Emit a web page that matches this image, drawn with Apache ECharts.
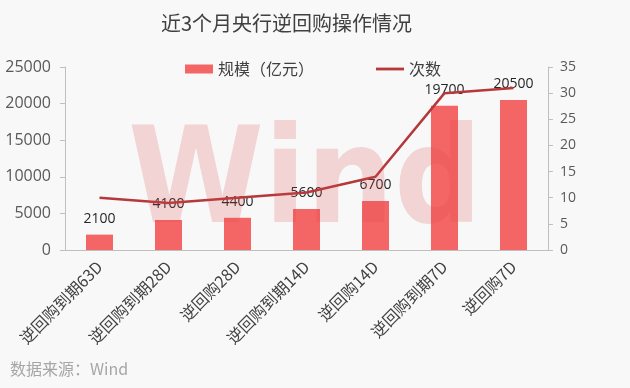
<!DOCTYPE html>
<html>
<head>
<meta charset="utf-8">
<script src="https://cdn.jsdelivr.net/npm/echarts@6/dist/echarts.min.js"></script>
<style>
html,body{margin:0;padding:0;background:#f8f8f8;}
#c{width:630px;height:388px;}
</style>
</head>
<body>
<div id="c"></div>
<script>
var categories = ['逆回购到期63D','逆回购到期28D','逆回购28D','逆回购到期14D','逆回购14D','逆回购到期7D','逆回购7D'];
var scaleValues = [2100, 4100, 4400, 5600, 6700, 19700, 20500];
var countValues = [10, 9, 10, 11, 14, 30, 31];
var leftTicks = [0, 5000, 10000, 15000, 20000, 25000];
var rightTicks = [0, 5, 10, 15, 20, 25, 30, 35];

var chart = echarts.init(document.getElementById('c'));
var font = '"Noto Sans CJK SC", "Open Sans", sans-serif';
chart.setOption({
  backgroundColor: '#f8f8f8',
  animation: false,
  title: {
    text: '近3个月央行逆回购操作情况',
    left: 156,
    top: 8,
    textStyle: {color: '#404040', fontSize: 20, fontWeight: 'normal', fontFamily: font}
  },
  legend: {
    top: 56,
    left: 180,
    itemGap: 62,
    itemWidth: 28,
    itemHeight: 9,
    textStyle: {color: '#404040', fontSize: 16, fontFamily: font},
    data: [
      {name: '规模（亿元）', icon: 'rect'},
      {name: '次数', icon: 'path://M0,0 L30,0 L30,3 L0,3 Z', itemStyle: {color: '#b5393b'}}
    ]
  },
  graphic: [
    {
      type: 'text',
      x: 128,
      y: 120,
      scaleX: 0.92,
      z: 100,
      style: {
        text: 'Wind',
        font: 'bold 134px "DejaVu Sans", sans-serif',
        fill: 'rgba(222,70,70,0.2)'
      }
    },
    {
      type: 'text',
      left: 10,
      top: 361,
      style: {text: '数据来源：Wind', font: '16px "Noto Sans CJK SC", sans-serif', fill: '#a6a6a6'}
    }
  ],
  grid: {left: 65, right: 82, top: 67, bottom: 138},
  xAxis: {
    type: 'category',
    data: categories,
    axisLine: {lineStyle: {color: '#bfbfbf', width: 1}},
    axisTick: {show: false},
    axisLabel: {rotate: 45, color: '#404040', fontSize: 16, margin: 14, fontFamily: font, interval: 0}
  },
  yAxis: [
    {
      type: 'value', min: leftTicks[0], max: leftTicks[leftTicks.length - 1], interval: 5000,
      axisLine: {show: true, lineStyle: {color: '#bfbfbf'}},
      axisTick: {show: true, length: 5, lineStyle: {color: '#bfbfbf'}},
      splitLine: {show: false},
      axisLabel: {color: '#595959', fontSize: 16, margin: 14, fontFamily: '"Open Sans", sans-serif',
        formatter: function (v) { return String(v); }}
    },
    {
      type: 'value', min: rightTicks[0], max: rightTicks[rightTicks.length - 1], interval: 5,
      position: 'right',
      axisLine: {show: true, lineStyle: {color: '#bfbfbf'}},
      axisTick: {show: true, length: 5, lineStyle: {color: '#bfbfbf'}},
      splitLine: {show: false},
      axisLabel: {color: '#595959', fontSize: 14, margin: 12, fontFamily: '"Open Sans", sans-serif'}
    }
  ],
  series: [
    {
      name: '规模（亿元）',
      type: 'bar',
      data: scaleValues,
      barWidth: 27,
      itemStyle: {color: '#f46666'},
      label: {show: true, position: 'top', distance: 9, color: '#262626', fontSize: 14, fontFamily: '"Open Sans", sans-serif'}
    },
    {
      name: '次数',
      type: 'line',
      yAxisIndex: 1,
      data: countValues,
      symbol: 'none',
      lineStyle: {color: '#b5393b', width: 2.5},
      itemStyle: {color: '#b5393b'}
    }
  ]
});
</script>
</body>
</html>
